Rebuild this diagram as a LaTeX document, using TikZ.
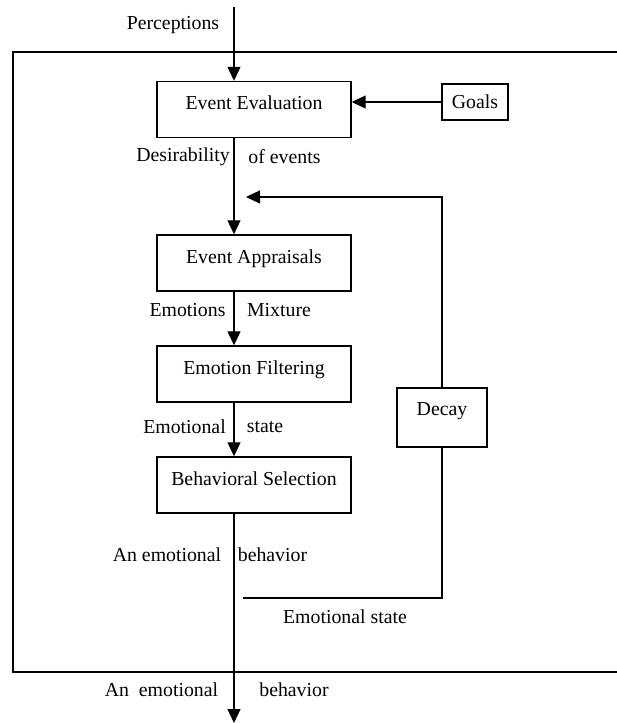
\documentclass[tikz,border=0pt]{standalone}
\usepackage{fontspec}
\setmainfont{Liberation Serif}
\usetikzlibrary{arrows.meta,calc}
\begin{document}
\begin{tikzpicture}[x=1pt,y=-1pt,
  font=\fontsize{19.8}{22}\selectfont,
  stagebox/.style={draw,line width=1.4pt,minimum width=194pt,text height=28pt,text depth=28pt,inner sep=0pt},
  goalbox/.style={draw,line width=2.8pt,minimum width=66pt,minimum height=36pt,inner sep=0pt},
  decaybox/.style={draw,line width=1.4pt,minimum width=90pt,text height=27pt,text depth=32pt,inner sep=0pt},
  lbl/.style={inner sep=0pt},
  conn/.style={line width=1.1pt},
  arr/.style={conn,-{Triangle[length=14pt,width=13pt]}},
  frame/.style={line width=1.6pt}
]
\useasboundingbox (0,0) rectangle (617,723);
% outer frame
\draw[frame] (617,52) -- (13,52) -- (13,672) -- (617,672);
% main axis
\coordinate (axis) at (234,0);
\coordinate (top) at (234,7);
\coordinate (bottom) at (234,723);
% boxes
\node[stagebox] (ee) at (254,109.5) {Event Evaluation};
\node[stagebox] (ea) at (254,263) {Event Appraisals};
\node[stagebox] (ef) at (254,374) {Emotion Filtering};
\node[stagebox] (bs) at (254,485) {Behavioral Selection};
\node[goalbox] (goals) at (475,102) {Goals};
\node[decaybox] (decay) at (442,417.5) {Decay};
% coordinates for feedback
\coordinate (fbtip) at (246,197);
\coordinate (fbend) at (243,598);
% connectors
\draw[arr] (top) -- (ee.north -| axis);
\draw[arr] (goals.west) -- (goals.west -| ee.east);
\draw[arr] (ee.south -| axis) -- (ea.north -| axis);
\draw[arr] (ea.south -| axis) -- (ef.north -| axis);
\draw[arr] (ef.south -| axis) -- (bs.north -| axis);
\draw[arr] (bs.south -| axis) -- (bottom);
\draw[arr] (decay.north) |- (fbtip);
\draw[conn,line width=1.4pt] (decay.south) |- (fbend);
% labels
\node[lbl] (lperc) at (173,25) {Perceptions};
\node[lbl] (ldes1) at (183,157) {Desirability};
\node[lbl] (ldes2) at (284.5,157) {of events};
\node[lbl] (lmix1) at (187.5,310) {Emotions};
\node[lbl] (lmix2) at (279,310) {Mixture};
\node[lbl] (lst1) at (184.5,427) {Emotional};
\node[lbl] (lst2) at (265,427) {state};
\node[lbl] (lbeh1) at (167,555) {An emotional};
\node[lbl] (lbeh2) at (272.5,555) {behavior};
\node[lbl] (lst3) at (345,617) {Emotional state};
\node[lbl] (lout1) at (161.5,690) {An\ \ emotional};
\node[lbl] (lout2) at (294,690) {behavior};
\end{tikzpicture}
\end{document}
